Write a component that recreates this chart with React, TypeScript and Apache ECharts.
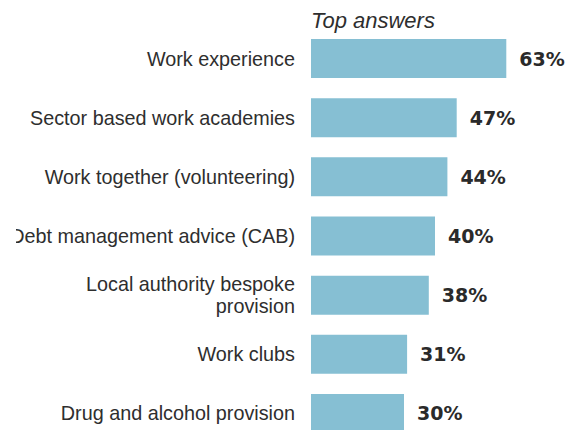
import React, { useEffect, useRef } from "react";
import * as echarts from "echarts";

const categories = [
  "Work experience",
  "Sector based work academies",
  "Work together (volunteering)",
  "Debt management advice (CAB)",
  "Local authority bespoke\nprovision",
  "Work clubs",
  "Drug and alcohol provision",
];
const values = [63, 47, 44, 40, 38, 31, 30];
const titleText = "Top answers";

export default function App() {
  const ref = useRef<HTMLDivElement>(null);
  useEffect(() => {
    if (!ref.current) return;
    const chart = echarts.init(ref.current, null, { renderer: "svg" });
    const yData = categories.map((c) =>
      c.includes("\n") ? { value: c, textStyle: { padding: [6, 0, 0, 0] } } : c
    );
    chart.setOption({
      animation: false,
      title: {
        text: titleText,
        left: 306,
        top: 4,
        textStyle: {
          fontFamily: "Liberation Sans",
          fontStyle: "italic",
          fontWeight: "normal",
          fontSize: 22,
          color: "#2e2e2e",
        },
      },
      graphic: [
        {
          type: "rect",
          left: 0,
          top: 0,
          z: 100,
          shape: { width: 16, height: 460 },
          style: { fill: "#ffffff" },
        },
      ],
      grid: { left: 311, top: 29, width: 248, height: 414 },
      xAxis: { type: "value", min: 0, max: 80, show: false },
      yAxis: {
        type: "category",
        data: yData,
        inverse: true,
        axisLine: { show: false },
        axisTick: { show: false },
        axisLabel: {
          margin: 16,
          fontFamily: "Liberation Sans",
          fontSize: 19.8,
          color: "#2e2e2e",
          lineHeight: 22,
          align: "right",
        },
      },
      series: [
        {
          type: "bar",
          data: values,
          barWidth: 39,
          itemStyle: { color: "#86bfd3" },
          label: {
            show: true,
            position: "right",
            distance: 13,
            formatter: "{c}%",
            fontFamily: "DejaVu Sans",
            fontWeight: "bold",
            fontSize: 19,
            color: "#2a2a2a",
          },
        },
      ],
    });
    return () => chart.dispose();
  }, []);
  return (
    <div
      style={{ position: "fixed", left: 0, top: 0, width: 578, height: 430, overflow: "hidden", background: "#fff" }}
    >
      <div ref={ref} style={{ width: 578, height: 460 }} />
    </div>
  );
}
